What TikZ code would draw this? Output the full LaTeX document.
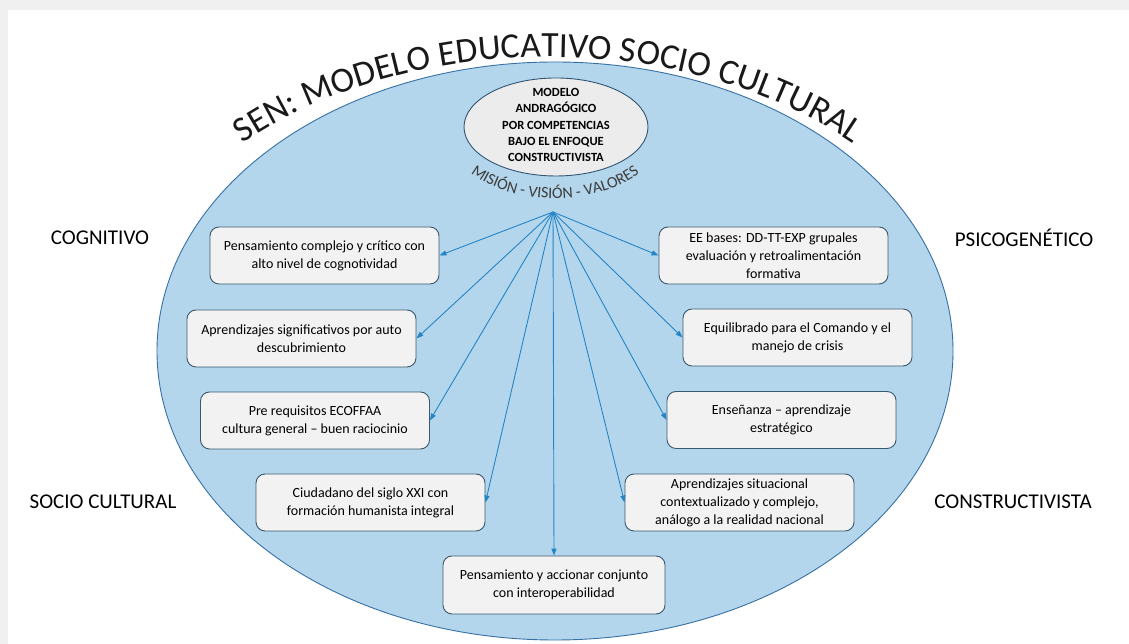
\documentclass[tikz,border=0pt]{standalone}
\usepackage{fontspec}
\setmainfont{Carlito}
\usetikzlibrary{arrows.meta,decorations.text,shapes.geometric}
\definecolor{bigfill}{RGB}{180,214,236}
\definecolor{bigline}{RGB}{55,112,165}
\definecolor{smallfill}{RGB}{236,236,236}
\definecolor{smallline}{RGB}{50,85,115}
\definecolor{boxfill}{RGB}{242,242,242}
\definecolor{boxline}{RGB}{60,88,108}
\definecolor{arrcol}{RGB}{36,132,198}
\definecolor{bggray}{RGB}{240,240,240}
\definecolor{titlecol}{RGB}{25,25,25}
\definecolor{arccol}{RGB}{60,60,60}
\tikzset{
  x=1pt, y=1pt,
  boxnode/.style={draw=boxline, fill=boxfill, rounded corners=9pt, line width=0.9pt,
    minimum width=229pt, minimum height=57pt, align=center, inner sep=2pt,
    font=\fontsize{14}{18}\selectfont},
  arr/.style={draw=arrcol, line width=0.9pt, -{Triangle[length=7pt,width=5pt]}},
  corner/.style={font=\fontsize{21}{24}\selectfont, text=black}
}
\begin{document}
\begin{tikzpicture}
\useasboundingbox (0,0) rectangle (1129,644);
\fill[bggray] (0,0) rectangle (1129,644);
\fill[white] (8,0) rectangle (1129,634);
% big ellipse
\node[ellipse, draw=bigline, fill=bigfill, line width=0.9pt, minimum width=796pt, minimum height=578pt, inner sep=0pt] (big) at (555,293) {};
% title along arc
\path[decorate, decoration={text along path, text align=center,
  text={|\fontsize{35.5}{40}\selectfont\color{titlecol}|SEN: MODELO EDUCATIVO SOCIO CULTURAL}}]
  (217.8,482.0) arc[start angle=140, end angle=40, x radius=431, y radius=294];
% small ellipse
\node[ellipse, draw=smallline, fill=smallfill, line width=0.9pt, minimum width=184pt, minimum height=98pt, inner sep=0pt] (small) at (556,517) {};
\node[align=center, font=\bfseries\fontsize{12.5}{16.3}\selectfont] (smalltext) at (556,519)
  {MODELO\\ANDRAGÓGICO\\POR COMPETENCIAS\\BAJO EL ENFOQUE\\CONSTRUCTIVISTA};
\path[decorate, decoration={text along path, text align=center,
  text={|\fontsize{16}{19}\selectfont\color{arccol}|MISIÓN - VISIÓN - VALORES}}]
  (455.0,487.5) arc[start angle=202, end angle=338, x radius=108, y radius=67];
% corner labels
\node[corner] (cog) at (100,406) {COGNITIVO};
\node[corner] (psi) at (1024,406) {PSICOGENÉTICO};
\node[corner] (soc) at (103,142) {SOCIO CULTURAL};
\node[corner] (con) at (1013,142) {CONSTRUCTIVISTA};
% boxes
\node[boxnode] (L1) at (324.5,388.5) {Pensamiento complejo y crítico con\\alto nivel de cognotividad};
\node[boxnode] (L2) at (301.5,305.5) {Aprendizajes significativos por auto\\descubrimiento};
\node[boxnode] (L3) at (315,223.5) {Pre requisitos ECOFFAA\\cultura general – buen raciocinio};
\node[boxnode] (L4) at (370.5,141.5) {Ciudadano del siglo XXI con\\formación humanista integral};
\node[boxnode, minimum width=222pt, minimum height=58pt] (B) at (554,59) {Pensamiento y accionar conjunto\\con interoperabilidad};
\node[boxnode] (R4) at (739.5,141.5) {Aprendizajes situacional\\contextualizado y complejo,\\análogo a la realidad nacional};
\node[boxnode] (R3) at (781.5,224) {Enseñanza – aprendizaje\\estratégico};
\node[boxnode] (R2) at (797.5,306.5) {Equilibrado para el Comando y el\\manejo de crisis};
\node[boxnode] (R1) at (773.5,388.5) {EE bases: DD-TT-EXP grupales\\evaluación y retroalimentación\\formativa};
% hub and arrows
\coordinate (hub) at (553,432);
\draw[arr] (hub) -- (L1.east);
\draw[arr] (hub) -- (L2.east);
\draw[arr] (hub) -- (L3.east);
\draw[arr] (hub) -- (L4.east);
\draw[arr] (hub) -- (B.north);
\draw[arr] (hub) -- (R4.west);
\draw[arr] (hub) -- (R3.west);
\draw[arr] (hub) -- (R2.west);
\draw[arr] (hub) -- (R1.west);
\end{tikzpicture}
\end{document}
